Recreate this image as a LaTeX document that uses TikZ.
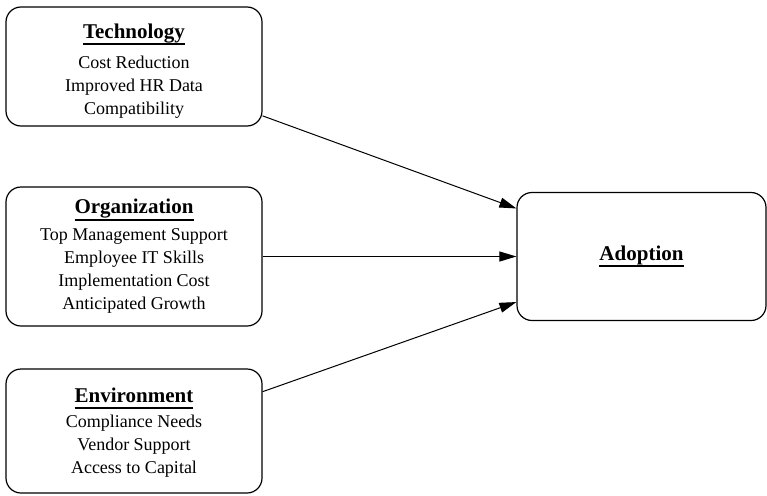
\documentclass[tikz,border=0pt]{standalone}
\usepackage{fontspec}
\setmainfont{Liberation Serif}
\usetikzlibrary{positioning,arrows.meta}
\tikzset{f/.style={rectangle,draw,rounded corners=15pt,line width=1.2pt,minimum width=256pt,align=center,font=\fontsize{18}{23}\selectfont},
            a/.style={rectangle,draw,rounded corners=15pt,line width=1.2pt,minimum width=249pt,minimum height=128pt},
            t/.style={-{Triangle[length=17pt,width=10pt]}, line width=1pt}}
\newcommand{\ttl}[1]{{\fontsize{21}{23}\selectfont\bfseries\setbox0\hbox{#1}\rlap{\rule[-7pt]{\wd0}{2pt}}\box0}}

\begin{document}
\begin{tikzpicture}[x=1pt,y=-1pt]
\useasboundingbox (0,0) rectangle (767,495);
\node[f,minimum height=119pt] at (134,66.5)(tech){\rule{0pt}{23pt}\ttl{Technology}\\[7pt]Cost Reduction\\Improved HR Data\\Compatibility};
\node[f,minimum height=139pt] at (134,256.5)(org){\ttl{Organization}\\[4pt]Top Management Support\\Employee IT Skills\\Implementation Cost\\Anticipated Growth};
\node[f,minimum height=124pt] at (134,431)(env){\rule{0pt}{17pt}\ttl{Environment}\\[2pt]Compliance Needs\\Vendor Support\\Access to Capital};
\node[a] at (641.5,256.5)(adopt){\ttl{Adoption}};
\draw[t] (tech.-21.7) -- (adopt.159);
\draw[t] (org) -- (adopt);
\draw[t] (env.17.4) -- (adopt.200.6);
\end{tikzpicture}
\end{document}
